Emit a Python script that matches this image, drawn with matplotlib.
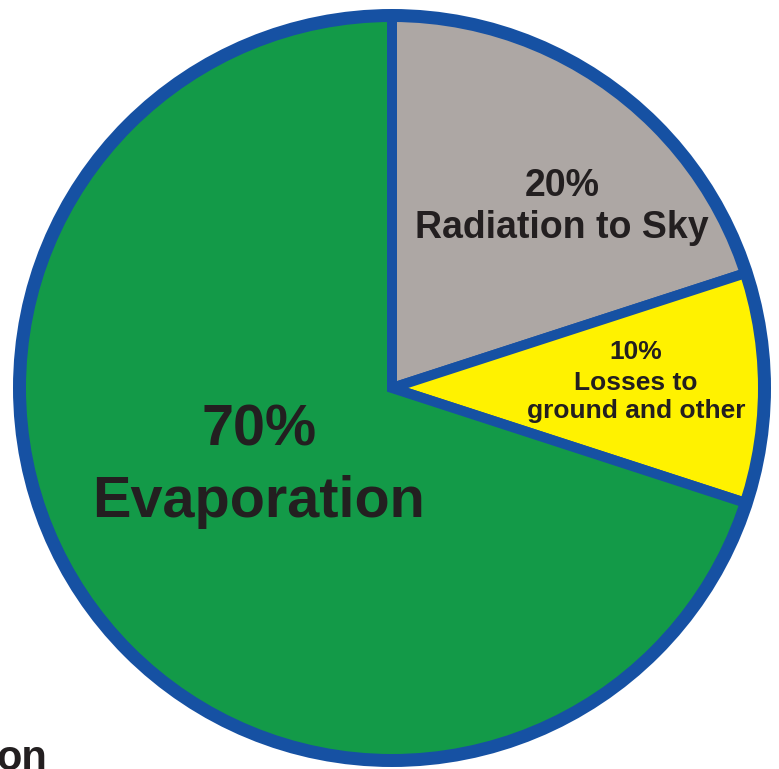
import matplotlib
matplotlib.use('Agg')
import matplotlib.pyplot as plt
from matplotlib.patches import Circle

plt.rcParams['font.family'] = ['Liberation Sans', 'DejaVu Sans']

# data
labels = ['Radiation to Sky', 'Losses to\nground and other', 'Evaporation']
shares = [20, 10, 70]
colors = ['#ada7a4', '#fff200', '#139a48']
edge_blue = '#1651a3'
text_col = '#231f20'

W, H = 779, 769
fig = plt.figure(figsize=(W / 100, H / 100), dpi=100)
ax = fig.add_axes([0, 0, 1, 1])

cx, cy = 392, 388  # pixel coords from top-left
px = 72 / 100  # one pixel in points


def Y(y):
    return H - y


ax.pie(shares, colors=colors, startangle=90, counterclock=False,
       center=(cx, Y(cy)), radius=372,
       wedgeprops=dict(edgecolor=edge_blue, linewidth=10 * px, joinstyle='miter'))
ax.add_patch(Circle((cx, Y(cy)), 372.5, fill=False, edgecolor=edge_blue,
                    linewidth=13 * px, zorder=5))

ax.set_xlim(0, W)
ax.set_ylim(0, H)
ax.set_aspect('equal')
ax.axis('off')

kw = dict(ha='center', va='baseline', color=text_col, fontweight='bold')

# gray wedge
ax.text(562, Y(196), f'{shares[0]}%', fontsize=27, **kw)
ax.text(562, Y(238), labels[0], fontsize=27, **kw)

# yellow wedge
ax.text(636, Y(359), f'{shares[1]}%', fontsize=19, **kw)
l1, l2 = labels[1].split('\n')
ax.text(636, Y(390), l1, fontsize=19, **kw)
ax.text(636, Y(418), l2, fontsize=19, **kw)

# green wedge
ax.text(259, Y(445), f'{shares[2]}%', fontsize=41.5, **kw)
ax.text(259, Y(517), labels[2], fontsize=41.5, **kw)

# cut-off caption at bottom left
ax.text(47, Y(770), 'on', fontsize=30, ha='right', va='baseline',
        color=text_col, fontweight='bold')

fig.savefig('out.png', dpi=100)
